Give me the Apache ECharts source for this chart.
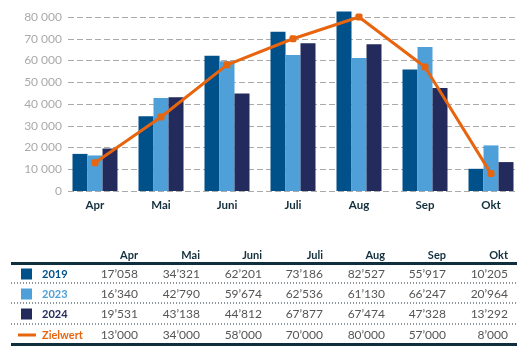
<!DOCTYPE html>
<html><head><meta charset="utf-8">
<script src="https://cdn.jsdelivr.net/npm/echarts@6/dist/echarts.min.js"></script>
<style>html,body{margin:0;padding:0;background:#fff}#c{width:526px;height:354px}</style>
</head><body><div id="c"></div>
<script>
var categories = ['Apr','Mai','Juni','Juli','Aug','Sep','Okt'];
var s2019 = [17058,34321,62201,73186,82527,55917,10205];
var s2023 = [16340,42790,59674,62536,61130,66247,20964];
var s2024 = [19531,43138,44812,67877,67474,47328,13292];
var target = [13000,34000,58000,70000,80000,57000,8000];
var yTicks = [0,10000,20000,30000,40000,50000,60000,70000,80000];

var colors = {s2019:'#00508a', s2023:'#4fa0d8', s2024:'#232a5c', target:'#e8650f'};
var FONT = 'Lato, "Noto Sans", sans-serif';

function fmtTick(v){ return String(v).replace(/\B(?=(\d{3})+(?!\d))/g,' '); }
function fmtVal(v){ return String(v).replace(/\B(?=(\d{3})+(?!\d))/g,'\u2019'); }

var rows = [
  {name:'2019', data:s2019, color:colors.s2019, icon:'rect'},
  {name:'2023', data:s2023, color:colors.s2023, icon:'rect'},
  {name:'2024', data:s2024, color:colors.s2024, icon:'rect'},
  {name:'Zielwert', data:target, color:colors.target, icon:'line'}
];

var graphics = [];
var colRight = [138,200,262,323,385,446,508];
var headerY = 255, rowY = [274,294,314,335];
categories.forEach(function(c,i){
  graphics.push({type:'text', x:colRight[i], y:headerY, style:{text:c, fill:'#13303d', font:'bold 11px '+FONT, align:'right', verticalAlign:'middle'}});
});
graphics.push({type:'rect', shape:{x:11,y:262,width:506,height:3}, style:{fill:'#0e2f3b'}});
graphics.push({type:'rect', shape:{x:11,y:343,width:506,height:3}, style:{fill:'#0e2f3b'}});
[283,303,324].forEach(function(y){
  graphics.push({type:'line', shape:{x1:11,y1:y,x2:517,y2:y}, style:{stroke:'#1a2e3b', lineWidth:1, lineDash:[1,2]}});
});
rows.forEach(function(r,ri){
  var y = rowY[ri];
  if(r.icon==='rect'){
    graphics.push({type:'rect', shape:{x:21,y:y-5.5,width:11,height:11}, style:{fill:r.color}});
  } else {
    graphics.push({type:'rect', shape:{x:18,y:y-1.5,width:18,height:3}, style:{fill:r.color}});
  }
  graphics.push({type:'text', x:42, y:y, style:{text:r.name, fill:r.color, font:'bold 11px '+FONT, verticalAlign:'middle'}});
  r.data.forEach(function(v,i){
    graphics.push({type:'text', x:colRight[i], y:y, style:{text:fmtVal(v), fill:'#555', font:'12px '+FONT, align:'right', verticalAlign:'middle'}});
  });
});

var chart = echarts.init(document.getElementById('c'));
chart.setOption({
  animation:false,
  grid:[
    {left:68, right:11, top:17, height:174},
    {left:62, right:2, top:6.125, height:184.875}
  ],
  xAxis:[
    {gridIndex:0, type:'category', data:categories, show:false},
    {gridIndex:1, type:'category', data:categories,
     axisLine:{show:false}, axisTick:{show:false},
     axisLabel:{color:'#13303d', fontFamily:FONT, fontWeight:'bold', fontSize:11.5, margin:8}}
  ],
  yAxis:[
    {gridIndex:0, type:'value', min:0, max:80000, interval:10000,
     axisLine:{show:false}, axisTick:{show:false},
     axisLabel:{color:'#aaa', fontFamily:FONT, fontSize:12, margin:6, formatter:function(v){return yTicks.indexOf(v)>=0?fmtTick(v):'';}},
     splitLine:{lineStyle:{color:'#aaa', type:[6,3], width:1}}},
    {gridIndex:1, type:'value', min:0, max:85000, show:false, splitLine:{show:false}}
  ],
  series:[
    {type:'bar', name:'2019', xAxisIndex:1, yAxisIndex:1, data:s2019, barWidth:15, barGap:'0%', itemStyle:{color:colors.s2019}},
    {type:'bar', name:'2023', xAxisIndex:1, yAxisIndex:1, data:s2023, barWidth:15, barGap:'0%', itemStyle:{color:colors.s2023}},
    {type:'bar', name:'2024', xAxisIndex:1, yAxisIndex:1, data:s2024, barWidth:15, barGap:'0%', itemStyle:{color:colors.s2024}},
    {type:'line', name:'Zielwert', xAxisIndex:1, yAxisIndex:1, data:target, symbol:'roundRect', symbolSize:7,
     lineStyle:{color:colors.target, width:3}, itemStyle:{color:colors.target}, z:5}
  ],
  graphic:graphics
});
</script></body></html>
